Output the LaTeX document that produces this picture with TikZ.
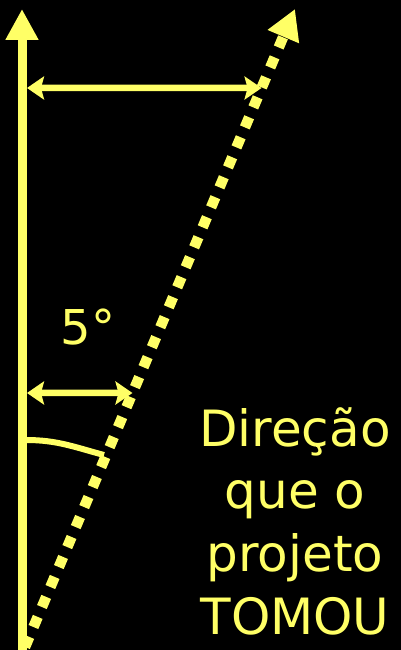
\documentclass[tikz,border=0pt]{standalone}
\usepackage{fontspec}
\setmainfont{DejaVu Sans}
\usetikzlibrary{arrows.meta, calc, positioning}
\definecolor{giz}{RGB}{255,255,102}

\begin{document}
\begin{tikzpicture}[x=1pt, y=1pt,
				giz,
				axis/.style={line width=9pt, -{Triangle[length=31pt,width=31pt]}},
				took/.style={line width=10.5pt, dash pattern=on 11pt off 10.7pt, -{Triangle[length=30pt,width=32pt]}},
				gap/.style={line width=6.5pt, {Stealth[length=17pt,width=23pt,inset=3pt]}-{Stealth[length=17pt,width=23pt,inset=3pt]}},
				lbl/.style={text=giz, inner sep=0pt, font=\fontsize{50}{62.7}\selectfont}]
				\fill[black] (0,0) rectangle (401,650);
				\useasboundingbox (0,0) rectangle (401,650);
				\coordinate (base) at (22,-2);
				\coordinate (top) at (22,641);
				\coordinate (start) at (25,3);
				\coordinate (tip) at (295,641);
				\coordinate (hi) at (27,562);
				\coordinate (lo) at (27,257);
				\coordinate (hiend) at ($(start)!{(562-3)/638}!(tip)$);
				\coordinate (loend) at ($(start)!{(257-3)/638}!(tip)$);
				\coordinate (arcin) at (26,210);
				\coordinate (arcout) at (104,195);
				\node at (88,323) (ang) [lbl, font=\fontsize{48}{50}\selectfont] {5°};
				\node at (295,243) (dir) [lbl, anchor=north, align=center] {Direção\\que o\\projeto\\TOMOU};
				\draw[axis] (base) -- (top);
				\draw[took] (start) -- (tip);
				\draw[gap] (hi) -- (hiend);
				\draw[gap] (lo) -- (loend);
				\draw[line width=6pt] (arcin) to[out=0, in=165] (arcout);
			\end{tikzpicture}
\end{document}
